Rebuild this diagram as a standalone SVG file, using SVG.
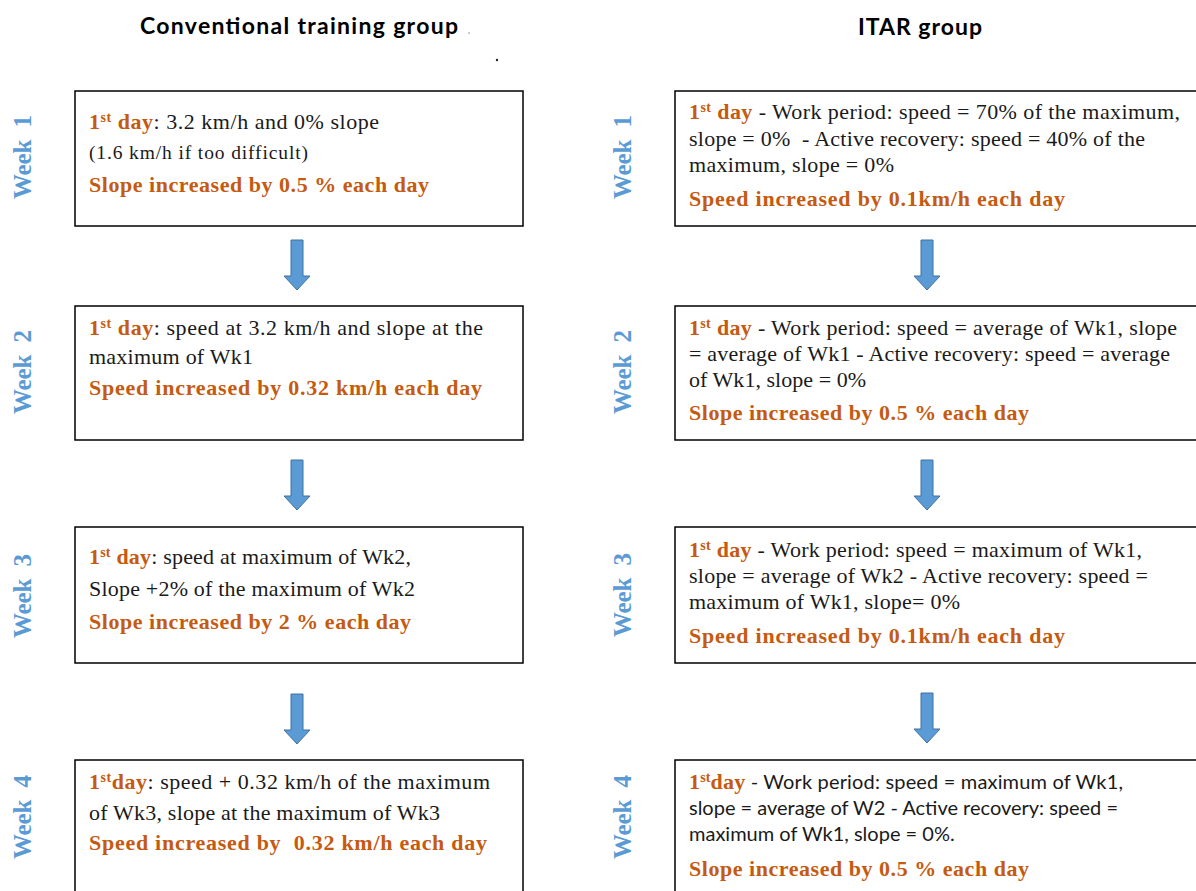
<svg xmlns="http://www.w3.org/2000/svg" xmlns:xlink="http://www.w3.org/1999/xlink" width="1196" height="891" viewBox="0 0 1196 891">
<style>
.box{fill:#fff;stroke:#000;stroke-width:1.5}
.t{font-family:"Liberation Serif",serif;font-size:22px;fill:#1a1a1a}
.ts{font-family:"Lato","Liberation Sans",sans-serif;font-size:20px;fill:#1a1a1a}
.o{font-family:"Liberation Serif",serif;font-weight:bold;fill:#C55A11}
.ob{font-family:"Liberation Serif",serif;font-weight:bold;font-size:22px;fill:#C55A11}
.sup{font-size:14px}
.wk{font-family:"Liberation Serif",serif;font-weight:bold;font-size:25px;fill:#5B9BD5;text-anchor:middle}
.title{font-family:"Lato","Liberation Sans",sans-serif;font-weight:bold;font-size:23px;fill:#000;text-anchor:middle}
.arrow{fill:#5B9BD5;stroke:#41719C;stroke-width:1}
</style>
<defs>
<path id="arr" class="arrow" d="M-6,0 L6,0 L6,36 L13,36 L0,50 L-13,36 L-6,36 Z"/>
</defs>
<rect width="1196" height="891" fill="#fff"/>
<g id="titles">
<text class="title" x="299" y="34" textLength="318">Conventional training group</text>
<text class="title" x="920" y="35" textLength="124">ITAR group</text>
<circle cx="469" cy="33" r="0.8" fill="#888"/>
<circle cx="497" cy="60" r="1.2" fill="#222"/>
</g>
<g id="week-labels">
<text class="wk" transform="translate(31,157) rotate(-90)" textLength="84" xml:space="preserve">Week  1</text>
<text class="wk" transform="translate(31,372) rotate(-90)" textLength="84" xml:space="preserve">Week  2</text>
<text class="wk" transform="translate(31,596) rotate(-90)" textLength="84" xml:space="preserve">Week  3</text>
<text class="wk" transform="translate(31,817) rotate(-90)" textLength="84" xml:space="preserve">Week  4</text>
<text class="wk" transform="translate(631,157) rotate(-90)" textLength="84" xml:space="preserve">Week  1</text>
<text class="wk" transform="translate(631,372) rotate(-90)" textLength="84" xml:space="preserve">Week  2</text>
<text class="wk" transform="translate(631,595) rotate(-90)" textLength="84" xml:space="preserve">Week  3</text>
<text class="wk" transform="translate(631,817) rotate(-90)" textLength="84" xml:space="preserve">Week  4</text>
</g>
<g id="conv-week1">
<rect class="box" x="75" y="91" width="448" height="135"/>
<text class="t" x="89" y="129" textLength="290"><tspan class="o">1</tspan><tspan class="o sup" dy="-7">st</tspan><tspan class="o" dy="7"> day</tspan>: 3.2 km/h and 0% slope</text>
<text class="t" x="89" y="159" style="font-size:19.5px" textLength="219">(1.6 km/h if too difficult)</text>
<text class="ob" x="89" y="192" textLength="340">Slope increased by 0.5 % each day</text>
</g>
<g id="conv-week2">
<rect class="box" x="75" y="306" width="448" height="134"/>
<text class="t" x="89" y="335" textLength="394"><tspan class="o">1</tspan><tspan class="o sup" dy="-7">st</tspan><tspan class="o" dy="7"> day</tspan>: speed at 3.2 km/h and slope at the</text>
<text class="t" x="89" y="364" textLength="164">maximum of Wk1</text>
<text class="ob" x="89" y="395" textLength="393">Speed increased by 0.32 km/h each day</text>
</g>
<g id="conv-week3">
<rect class="box" x="75" y="527" width="448" height="136"/>
<text class="t" x="89" y="564" textLength="322"><tspan class="o">1</tspan><tspan class="o sup" dy="-7">st</tspan><tspan class="o" dy="7"> day</tspan>: speed at maximum of Wk2,</text>
<text class="t" x="89" y="596" textLength="326">Slope +2% of the maximum of Wk2</text>
<text class="ob" x="89" y="629" textLength="322">Slope increased by 2 % each day</text>
</g>
<g id="conv-week4">
<rect class="box" x="75" y="760" width="448" height="140"/>
<text class="t" x="89" y="789" textLength="401"><tspan class="o">1</tspan><tspan class="o sup" dy="-7">st</tspan><tspan class="o" dy="7">day</tspan>: speed + 0.32 km/h of the maximum</text>
<text class="t" x="89" y="820" textLength="351">of Wk3, slope at the maximum of Wk3</text>
<text class="ob" x="89" y="850" textLength="398" xml:space="preserve">Speed increased by  0.32 km/h each day</text>
</g>
<g id="itar-week1">
<rect class="box" x="675" y="91" width="530" height="135"/>
<text class="t" x="689" y="119" textLength="491"><tspan class="o">1</tspan><tspan class="o sup" dy="-7">st</tspan><tspan class="o" dy="7"> day</tspan> - Work period: speed = 70% of the maximum,</text>
<text class="t" x="689" y="146" textLength="456" xml:space="preserve">slope = 0%  - Active recovery: speed = 40% of the</text>
<text class="t" x="689" y="172" textLength="205">maximum, slope = 0%</text>
<text class="ob" x="689" y="206" textLength="376">Speed increased by 0.1km/h each day</text>
</g>
<g id="itar-week2">
<rect class="box" x="675" y="306" width="530" height="134"/>
<text class="t" x="689" y="335" textLength="488"><tspan class="o">1</tspan><tspan class="o sup" dy="-7">st</tspan><tspan class="o" dy="7"> day</tspan> - Work period: speed = average of Wk1, slope</text>
<text class="t" x="689" y="361" textLength="481">= average of Wk1 - Active recovery: speed = average</text>
<text class="t" x="689" y="387" textLength="177">of Wk1, slope = 0%</text>
<text class="ob" x="689" y="420" textLength="340">Slope increased by 0.5 % each day</text>
</g>
<g id="itar-week3">
<rect class="box" x="675" y="527" width="530" height="136"/>
<text class="t" x="689" y="557" textLength="453"><tspan class="o">1</tspan><tspan class="o sup" dy="-7">st</tspan><tspan class="o" dy="7"> day</tspan> - Work period: speed = maximum of Wk1,</text>
<text class="t" x="689" y="583" textLength="459">slope = average of Wk2 - Active recovery: speed =</text>
<text class="t" x="689" y="609" textLength="271">maximum of Wk1, slope= 0%</text>
<text class="ob" x="689" y="643" textLength="376">Speed increased by 0.1km/h each day</text>
</g>
<g id="itar-week4">
<rect class="box" x="675" y="760" width="530" height="140"/>
<text class="ts" x="689" y="789" textLength="434"><tspan class="o" style="font-size:22px">1</tspan><tspan class="o sup" dy="-7">st</tspan><tspan class="o" dy="7" style="font-size:22px">day</tspan> - Work period: speed = maximum of Wk1,</text>
<text class="ts" x="689" y="815" textLength="429">slope = average of W2 - Active recovery: speed =</text>
<text class="ts" x="689" y="841">maximum of Wk1, slope = 0%.</text>
<text class="ob" x="689" y="876" textLength="340">Slope increased by 0.5 % each day</text>
</g>
<g id="connectors">
<use xlink:href="#arr" x="297" y="240"/>
<use xlink:href="#arr" x="297" y="460"/>
<use xlink:href="#arr" x="297" y="694"/>
<use xlink:href="#arr" x="927" y="240"/>
<use xlink:href="#arr" x="927" y="460"/>
<use xlink:href="#arr" x="927" y="693"/>
</g>
</svg>
